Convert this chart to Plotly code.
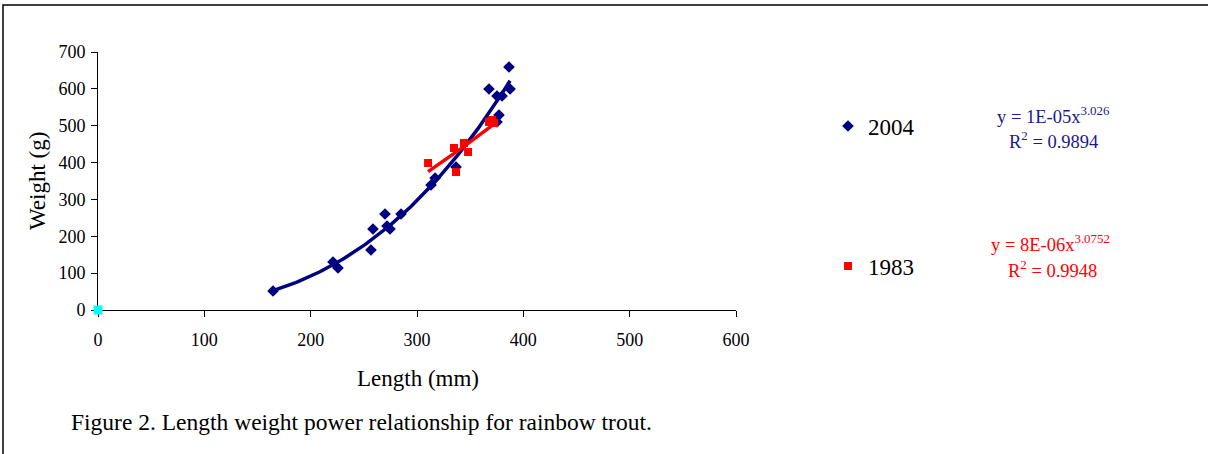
import numpy as np
import plotly.graph_objects as go

# ---- data ----
len_2004 = [164.6, 221.0, 225.7, 256.7, 258.6, 269.9, 271.8, 274.6, 285.0, 313.2,
            317.0, 336.7, 367.7, 375.2, 377.1, 375.2, 380.0, 386.5, 387.5]
wt_2004 = [51.6, 130.2, 114.0, 162.8, 219.8, 260.5, 227.9, 219.8, 260.5, 339.2,
           358.1, 388.0, 599.6, 510.1, 529.0, 580.6, 580.6, 659.3, 599.6]

len_1983 = [310.4, 334.8, 336.7, 344.2, 348.0, 367.7, 370.5, 372.4]
wt_1983 = [398.8, 439.5, 374.4, 453.1, 428.7, 510.1, 515.5, 507.4]

len_origin = [0]
wt_origin = [0]

eq_2004 = ["y = 1E-05x<sup>3.026</sup>", "R<sup>2</sup> = 0.9894"]
eq_1983 = ["y = 8E-06x<sup>3.0752</sup>", "R<sup>2</sup> = 0.9948"]

NAVY = "#000080"
RED = "#FF0000"
FONT = "Liberation Serif, Times New Roman, serif"


def power_fit(x, y, n=120):
    x = np.asarray(x, float)
    y = np.asarray(y, float)
    b, lna = np.polyfit(np.log(x), np.log(y), 1)
    xs = np.linspace(x.min(), x.max(), n)
    return xs, np.exp(lna) * xs ** b


fig = go.Figure()

# trendlines
tx, ty = power_fit(len_2004, wt_2004)
fig.add_trace(go.Scatter(x=tx, y=ty, mode="lines", line=dict(color=NAVY, width=3.5),
                         showlegend=False, hoverinfo="skip"))
rx, ry = power_fit(len_1983, wt_1983)
fig.add_trace(go.Scatter(x=rx, y=ry, mode="lines", line=dict(color=RED, width=3.5),
                         showlegend=False, hoverinfo="skip"))

# points
fig.add_trace(go.Scatter(x=len_2004, y=wt_2004, mode="markers", name="2004",
                         marker=dict(symbol="diamond", color=NAVY, size=9),
                         legend="legend"))
fig.add_trace(go.Scatter(x=len_1983, y=wt_1983, mode="markers", name="1983",
                         marker=dict(symbol="square", color=RED, size=8),
                         legend="legend2"))
fig.add_trace(go.Scatter(x=len_origin, y=wt_origin, mode="markers", showlegend=False,
                         marker=dict(symbol="square", color="#00FFFF", size=9),
                         cliponaxis=False))

axis_common = dict(showline=True, linecolor="black", linewidth=1, ticks="outside",
                   ticklen=6, tickcolor="black", showgrid=False, zeroline=False,
                   layer="below traces",
                   tickfont=dict(family=FONT, size=18, color="black"))

fig.update_xaxes(range=[0, 600], dtick=100, ticklabelstandoff=7, **axis_common)
fig.update_yaxes(range=[0, 700], dtick=100, ticklabelstandoff=2, **axis_common)

EQ_BLUE = "#1a1a8c"
annotations = [
    dict(text="Length (mm)", x=0.5016, y=-0.2636, xref="paper", yref="paper",
         showarrow=False, font=dict(family=FONT, size=23, color="black"),
         xanchor="center", yanchor="middle"),
    dict(text="Weight (g)", x=-0.0956, y=0.5, xref="paper", yref="paper",
         showarrow=False, textangle=-90, font=dict(family=FONT, size=23, color="black"),
         xanchor="center", yanchor="middle"),
    dict(text="Figure 2. Length weight power relationship for rainbow trout.",
         x=-0.0455, y=-0.434, xref="paper", yref="paper", showarrow=False,
         font=dict(family=FONT, size=23.5, color="black"), xanchor="left", yanchor="middle"),
    dict(text=eq_2004[0], x=1.498, y=0.756, xref="paper", yref="paper", showarrow=False,
         font=dict(family=FONT, size=18.5, color=EQ_BLUE), xanchor="center", yanchor="middle"),
    dict(text=eq_2004[1], x=1.498, y=0.659, xref="paper", yref="paper", showarrow=False,
         font=dict(family=FONT, size=18.5, color=EQ_BLUE), xanchor="center", yanchor="middle"),
    dict(text=eq_1983[0], x=1.493, y=0.260, xref="paper", yref="paper", showarrow=False,
         font=dict(family=FONT, size=18.5, color=RED), xanchor="center", yanchor="middle"),
    dict(text=eq_1983[1], x=1.496, y=0.159, xref="paper", yref="paper", showarrow=False,
         font=dict(family=FONT, size=18.5, color=RED), xanchor="center", yanchor="middle"),
]

legend_common = dict(font=dict(family=FONT, size=23, color="black"), bgcolor="rgba(0,0,0,0)",
                     borderwidth=0, xanchor="left", yanchor="middle", x=1.1442)

fig.update_layout(
    width=1208, height=454,
    margin=dict(l=98, r=472, t=52, b=144),
    paper_bgcolor="white", plot_bgcolor="white",
    annotations=annotations,
    legend=dict(y=0.713, **legend_common),
    legend2=dict(y=0.1705, **legend_common),
    shapes=[dict(type="rect", xref="paper", yref="paper", x0=-0.1489, x1=2.0,
                 y0=-2.0, y1=1.182, line=dict(color="black", width=1.5),
                 fillcolor="rgba(0,0,0,0)", layer="below")],
)

fig.write_html("out.html", config={"displayModeBar": False},
               post_script="document.body.style.margin='0';")
